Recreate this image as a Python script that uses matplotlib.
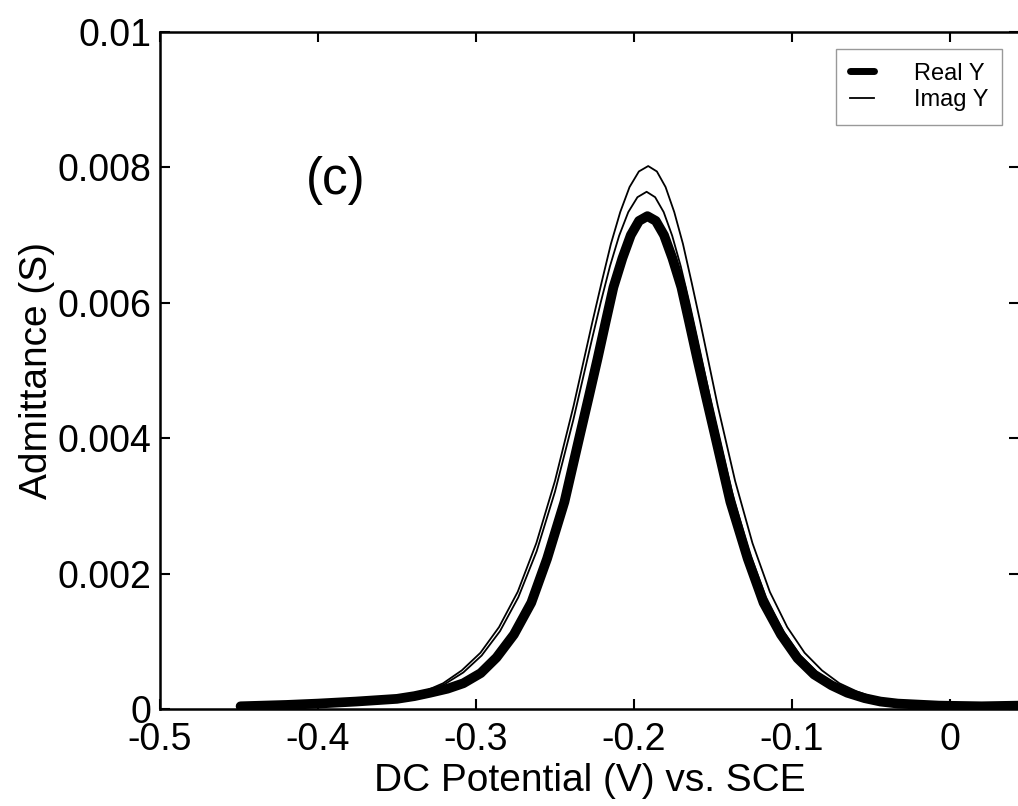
import matplotlib
matplotlib.use("Agg")
import matplotlib.pyplot as plt

plt.rcParams['font.family'] = ['Liberation Sans', 'DejaVu Sans']

# DC potential (V vs. SCE) and admittance (S) of the in-phase component
potential_real = [-0.449, -0.420, -0.400, -0.376, -0.350, -0.339, -0.329, -0.318,
                  -0.308, -0.297, -0.287, -0.276, -0.265, -0.255, -0.244, -0.234,
                  -0.2285, -0.223, -0.2179, -0.213, -0.2073, -0.202, -0.1968,
                  -0.1915, -0.1862, -0.181, -0.1757, -0.170, -0.1651, -0.160,
                  -0.1545, -0.149, -0.139, -0.128, -0.118, -0.107, -0.0965,
                  -0.086, -0.075, -0.065, -0.054, -0.044, -0.033, -0.007, 0.020,
                  0.044]
admittance_real = [0.00004, 0.00006, 0.00008, 0.00011, 0.00015, 0.00019, 0.00024,
                   0.00030, 0.00038, 0.00053, 0.00076, 0.00110, 0.00157, 0.00222,
                   0.00306, 0.00407, 0.00462, 0.00518, 0.00572, 0.00623, 0.00666,
                   0.00700, 0.00721, 0.00728, 0.00721, 0.00700, 0.00666, 0.00623,
                   0.00572, 0.00518, 0.00462, 0.00407, 0.00306, 0.00222, 0.00157,
                   0.00110, 0.00075, 0.00051, 0.00035, 0.00024, 0.00016, 0.00011,
                   0.00008, 0.00005, 0.00004, 0.00005]

# Quadrature component, higher-peak scan
potential_imag_a = [-0.449, -0.400, -0.368, -0.3562, -0.3444, -0.3326, -0.3208,
                    -0.3090, -0.2972, -0.2854, -0.2736, -0.2618, -0.2500, -0.2382,
                    -0.2264, -0.2205, -0.2146, -0.2087, -0.2028, -0.1969, -0.191,
                    -0.1855, -0.180, -0.1745, -0.169, -0.1635, -0.158, -0.147,
                    -0.136, -0.125, -0.114, -0.103, -0.092, -0.081, -0.070,
                    -0.059, -0.048, -0.037, -0.015, 0.020, 0.044]
admittance_imag_a = [0.00004, 0.00006, 0.00008, 0.00012, 0.00017, 0.00026, 0.00038,
                     0.00057, 0.00083, 0.00121, 0.00173, 0.00245, 0.00337, 0.00448,
                     0.00571, 0.00630, 0.00687, 0.00734, 0.00771, 0.00794, 0.00802,
                     0.00794, 0.00771, 0.00734, 0.00687, 0.00630, 0.00571, 0.00448,
                     0.00337, 0.00245, 0.00173, 0.00121, 0.00083, 0.00057, 0.00038,
                     0.00026, 0.00017, 0.00012, 0.00007, 0.00005, 0.00005]

# Quadrature component, lower-peak scan
potential_imag_b = [-0.449, -0.400, -0.366, -0.3544, -0.3428, -0.3312, -0.3196,
                    -0.308, -0.2964, -0.2848, -0.2732, -0.2616, -0.250, -0.2384,
                    -0.2268, -0.221, -0.2152, -0.2094, -0.2036, -0.1978, -0.192,
                    -0.1866, -0.1812, -0.1758, -0.1704, -0.165, -0.1596, -0.1488,
                    -0.138, -0.1272, -0.1164, -0.1056, -0.0948, -0.084, -0.0732,
                    -0.0624, -0.0516, -0.0408, -0.019, 0.020, 0.044]
admittance_imag_b = [0.00004, 0.00006, 0.00008, 0.00011, 0.00017, 0.00025, 0.00037,
                     0.00054, 0.00079, 0.00115, 0.00165, 0.00233, 0.00321, 0.00427,
                     0.00544, 0.00601, 0.00654, 0.00699, 0.00734, 0.00756, 0.00764,
                     0.00756, 0.00734, 0.00699, 0.00654, 0.00601, 0.00544, 0.00427,
                     0.00321, 0.00233, 0.00165, 0.00115, 0.00079, 0.00054, 0.00037,
                     0.00025, 0.00017, 0.00011, 0.00007, 0.00005, 0.00005]

x_ticks = [-0.5, -0.4, -0.3, -0.2, -0.1, 0.0]
x_tick_labels = ['-0.5', '-0.4', '-0.3', '-0.2', '-0.1', '0']
y_ticks = [0.0, 0.002, 0.004, 0.006, 0.008, 0.010]
y_tick_labels = ['0', '0.002', '0.004', '0.006', '0.008', '0.01']

W, H = 1018, 806
fig = plt.figure(figsize=(W / 100, H / 100), dpi=100)
ax = fig.add_axes([160 / W, (H - 709) / H, 859 / W, 677 / H])

ax.plot(potential_real, admittance_real, color='black', lw=7.0,
        solid_capstyle='round', solid_joinstyle='round', label='Real Y')
ax.plot(potential_imag_a, admittance_imag_a, color='black', lw=1.3,
        solid_joinstyle='round', label='Imag Y')
ax.plot(potential_imag_b, admittance_imag_b, color='black', lw=1.3,
        solid_joinstyle='round')

ax.set_xlim(-0.5, 0.0437)
ax.set_ylim(0.0, 0.010)
ax.set_xticks(x_ticks)
ax.set_xticklabels(x_tick_labels)
ax.set_yticks(y_ticks)
ax.set_yticklabels(y_tick_labels)

ax.tick_params(direction='in', length=7, width=1.5, top=True, right=True,
               labelsize=27, colors='black')
ax.tick_params(axis='x', pad=9)
ax.tick_params(axis='y', pad=6)
for sp in ax.spines.values():
    sp.set_linewidth(1.8)

ax.set_xlabel('DC Potential (V) vs. SCE', fontsize=28, labelpad=4)
ax.set_ylabel('Admittance (S)', fontsize=28, labelpad=2)

ax.text(-0.4076, 0.00781, '(c)', fontsize=37, ha='left', va='center')

leg = ax.legend(loc='upper right', fontsize=17, frameon=True, fancybox=False,
                handlelength=1.0, handletextpad=1.7, borderaxespad=0.7,
                borderpad=0.6, labelspacing=0.18)
leg.get_frame().set_edgecolor('#808080')
leg.get_frame().set_linewidth(1.0)
leg.legend_handles[0].set_linewidth(5.0)

fig.savefig('out.png', dpi=100, facecolor='white')
